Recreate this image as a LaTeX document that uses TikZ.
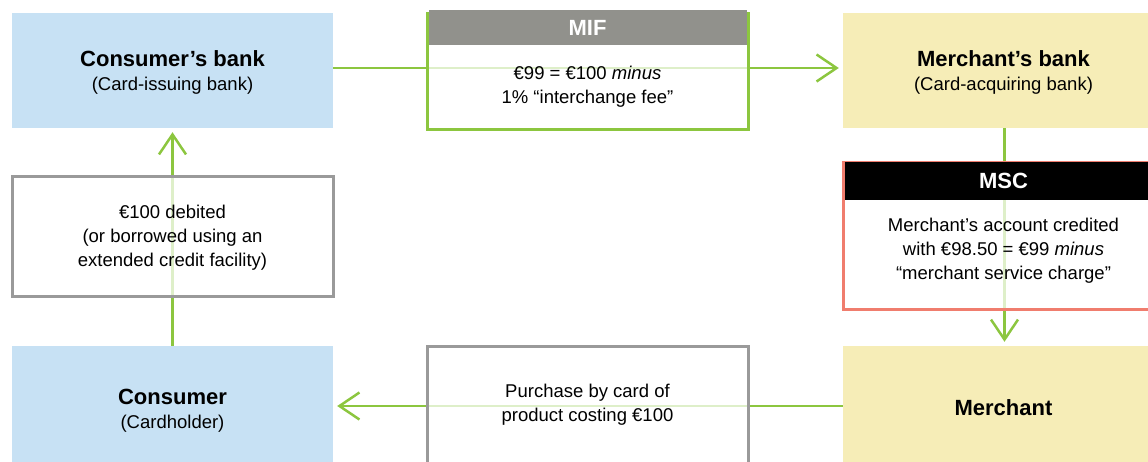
\documentclass[tikz,border=0pt]{standalone}
\usepackage{fontspec}
\setmainfont{Liberation Sans}
\usetikzlibrary{arrows.meta}
\definecolor{cblue}{HTML}{C7E1F4}
\definecolor{cyellow}{HTML}{F6EDB7}
\definecolor{cgreen}{HTML}{8CC63F}
\definecolor{cgray}{HTML}{9A9A9A}
\definecolor{hgray}{HTML}{91918C}
\definecolor{cred}{HTML}{F07D6E}
\begin{document}
\begin{tikzpicture}[x=1pt,y=-1pt,
  box/.style={rectangle, minimum width=321pt, minimum height=115pt, inner sep=0pt, align=center,
    font=\fontsize{18.5}{24}\selectfont},
  party/.style={box, fill=cblue},
  yparty/.style={box, fill=cyellow},
  note/.style={box, draw=cgray, line width=3pt, fill=white, fill opacity=0.72, text opacity=1, draw opacity=1},
  txt/.style={inner sep=0pt, align=center, font=\fontsize{18.5}{24}\selectfont},
  title/.style={font=\bfseries\fontsize{22}{24}\selectfont},
  flow/.style={draw=cgreen, line width=2.5pt, shorten >=4pt,
    -{Straight Barb[length=20pt,width=27pt,line width=2.5pt]}}
]
\useasboundingbox (0,0) rectangle (1148,461);
\clip (0,0) rectangle (1148,461);

% coloured party boxes
\node[party] (cb) at (172.5,70.5) {};
\node[txt] (cbt) at (172.5,72.5) {{\bfseries\fontsize{22}{24}\selectfont Consumer’s bank}\\(Card-issuing bank)};
\node[yparty] (mb) at (1003.5,70.5) {};
\node[txt] (mbt) at (1003.5,72.5) {{\bfseries\fontsize{22}{24}\selectfont Merchant’s bank}\\(Card-acquiring bank)};
\node[party, minimum height=120pt] (c) at (172.5,406) {};
\node[txt] (ct) at (172.5,411) {{\bfseries\fontsize{22}{24}\selectfont Consumer}\\(Cardholder)};
\node[yparty, minimum height=120pt] (m) at (1003.5,406) {};
\node[txt] (mt) at (1003.5,408) {\bfseries\fontsize{22}{24}\selectfont Merchant};

% connectors
\draw[flow] ([yshift=2.5pt]cb.east) -- ([yshift=2.5pt]mb.west);
\draw[flow] ([xshift=1pt]mb.south) -- ([xshift=1pt]m.north);
\draw[flow] (m.west) -- (c.east);
\draw[flow] (c.north) -- (cb.south);

% MIF box
\node[note, draw=cgreen, minimum height=116pt] (mif) at (587.5,71) {};
\node[fill=hgray, minimum width=318pt, minimum height=35pt, inner sep=0pt, anchor=north,
  text=white, title] (mifh) at ([yshift=1.5pt]mif.north) {MIF};
\node[txt] (mift) at (587.5,87) {€99 = €100 \textit{minus}\\1\% “interchange fee”};

% MSC box
\node[note, draw=cred, minimum height=147pt] (msc) at (1003.5,235.5) {};
\node[fill=black, minimum width=318pt, minimum height=38pt, inner sep=0pt, anchor=north,
  text=white, title] (msch) at ([yshift=-1.5pt]msc.north) {MSC};
\node[txt] (msct) at (1003.5,251) {Merchant’s account credited\\with €98.50 = €99 \textit{minus}\\“merchant service charge”};

% debit note
\node[note, minimum height=120pt] (deb) at (172.5,236) {};
\node[txt] (debt) at (172.5,237.5) {€100 debited\\(or borrowed using an\\extended credit facility)};

% purchase note
\node[note, minimum height=134pt] (pur) at (587.5,413) {};
\node[txt] (purt) at (587.5,405) {Purchase by card of\\product costing €100};
\end{tikzpicture}
\end{document}
